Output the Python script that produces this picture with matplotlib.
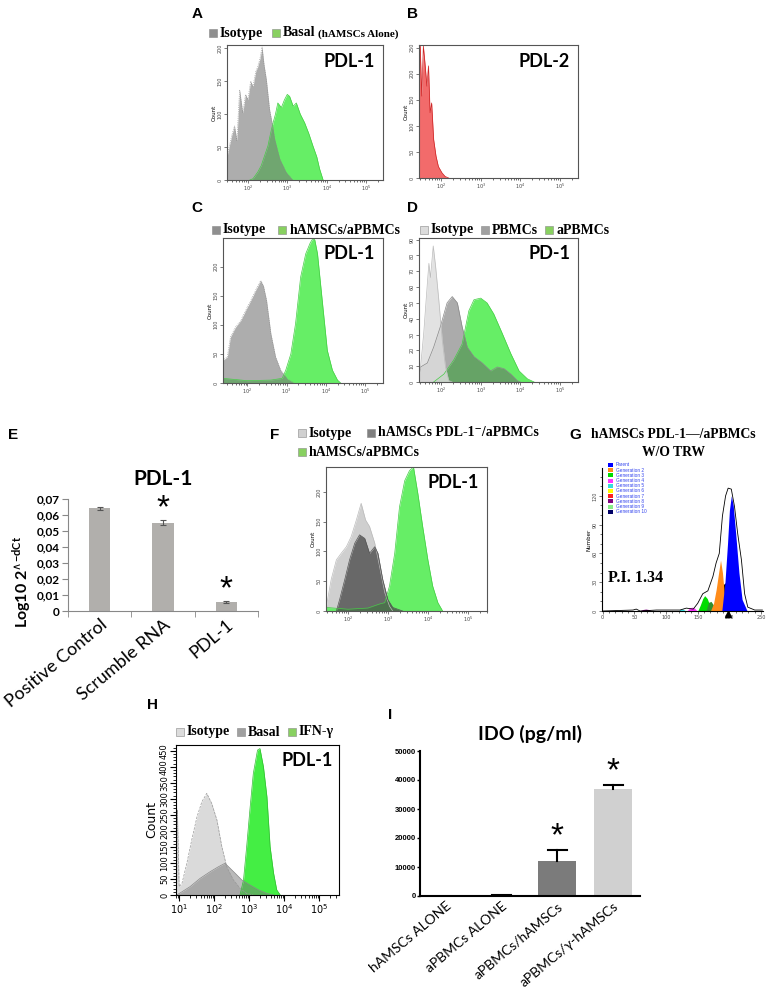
import numpy as np
import matplotlib
matplotlib.use('Agg')
import matplotlib.pyplot as plt
from matplotlib.patches import Rectangle

W, H = 767, 991

# ---------------- data (x in log10 decades, y = counts) ----------------
# A: PDL-1, isotype vs basal hAMSCs
a_iso_x = [1.47, 1.53, 1.60, 1.66, 1.72, 1.79, 1.87, 1.94, 2.0, 2.07, 2.13, 2.2, 2.25, 2.31, 2.36, 2.41, 2.47, 2.55, 2.62, 2.68, 2.81, 2.97, 3.14]
a_iso_y = [35, 52, 70, 82, 60, 137, 102, 130, 122, 150, 142, 165, 172, 185, 202, 175, 152, 107, 85, 62, 32, 12, 0]
a_bas_x = [2.05, 2.13, 2.25, 2.34, 2.43, 2.51, 2.58, 2.64, 2.70, 2.76, 2.85, 2.93, 3.0, 3.06, 3.15, 3.23, 3.33, 3.44, 3.55, 3.65, 3.75, 3.82, 3.91]
a_bas_y = [0, 2, 12, 22, 38, 52, 72, 87, 100, 117, 110, 122, 130, 127, 112, 117, 100, 87, 70, 52, 35, 17, 0]

# B: PDL-2
b_x = [1.44, 1.47, 1.51, 1.55, 1.59, 1.64, 1.68, 1.72, 1.76, 1.81, 1.87, 1.93, 2.02, 2.10, 2.19]
b_y = [255, 253, 157, 253, 221, 176, 215, 125, 144, 74, 42, 22, 10, 3, 0]

# C: PDL-1, isotype vs hAMSCs/aPBMCs
c_iso_x = [1.38, 1.49, 1.57, 1.70, 1.83, 1.96, 2.09, 2.21, 2.34, 2.41, 2.49, 2.60, 2.72, 2.85, 3.02, 3.19]
c_iso_y = [39, 45, 79, 96, 107, 125, 142, 159, 176, 167, 142, 85, 45, 22, 7, 0]
c_act_x = [1.38, 2.0, 2.6, 2.89, 2.98, 3.11, 3.23, 3.36, 3.49, 3.60, 3.67, 3.72, 3.79, 3.91, 4.04, 4.17, 4.30, 4.38]
c_act_y = [8, 4, 5, 8, 22, 50, 102, 182, 222, 240, 248, 246, 222, 142, 56, 22, 5, 0]

# D: PD-1
d_iso_x = [1.44, 1.48, 1.56, 1.65, 1.69, 1.73, 1.80, 1.86, 1.94, 2.03, 2.11, 2.19, 2.28]
d_iso_y = [5, 9.5, 31, 62, 75, 66, 86, 73, 52, 26, 9.5, 1, 0]
d_pbmc_x = [1.44, 1.48, 1.65, 1.81, 1.98, 2.15, 2.28, 2.41, 2.53, 2.66, 2.83, 3.04, 3.25, 3.42, 3.59, 3.76, 3.92, 4.0]
d_pbmc_y = [8, 9.5, 12, 22, 35, 50, 54, 50, 35, 22, 16, 12, 7, 9.5, 8.4, 5, 1, 0]
d_act_x = [1.81, 2.07, 2.32, 2.53, 2.70, 2.83, 3.0, 3.16, 3.33, 3.54, 3.76, 3.97, 4.18, 4.35]
d_act_y = [0, 5, 14, 24, 45, 52, 53, 50, 43, 31, 18, 7, 2, 0]

# E: qPCR PDL-1
e_labels = ['Positive Control', 'Scrumble RNA', 'PDL-1']
e_vals = [0.0642, 0.0553, 0.0055]
e_err = [0.0010, 0.0015, 0.0005]
e_star = [False, True, True]
e_yticks = [0, 0.01, 0.02, 0.03, 0.04, 0.05, 0.06, 0.07]
e_yticklabels = ['0', '0,01', '0,02', '0,03', '0,04', '0,05', '0,06', '0,07']

# F: PDL-1 silencing
f_iso_x = [1.46, 1.58, 1.71, 1.83, 1.96, 2.08, 2.21, 2.33, 2.44, 2.54, 2.67, 2.79, 2.92, 3.04, 3.12]
f_iso_y = [8, 53, 86, 97, 108, 125, 153, 181, 153, 142, 114, 75, 31, 8, 0]
f_neg_x = [1.71, 1.79, 1.92, 2.04, 2.17, 2.29, 2.42, 2.54, 2.67, 2.75, 2.87, 3.0, 3.12, 3.37]
f_neg_y = [0, 19, 53, 86, 114, 128, 122, 97, 108, 97, 53, 19, 6, 0]
f_act_x = [1.46, 2.0, 2.5, 2.8, 2.92, 3.04, 3.17, 3.29, 3.42, 3.54, 3.64, 3.75, 3.87, 4.0, 4.12, 4.25, 4.37]
f_act_y = [6, 3, 5, 12, 14, 42, 97, 175, 219, 236, 242, 197, 142, 86, 42, 14, 0]

# G: proliferation (channel, number)
g_tot_x = [0, 48, 53, 59, 85, 122, 132, 143, 150, 158, 166, 174, 179, 184, 189, 194, 198, 203, 208, 213, 219, 224, 229, 240, 252]
g_tot_y = [0, 1, 2, 0, 1, 1, 3, 2, 8, 18, 21, 36, 50, 60, 99, 120, 128, 127, 109, 81, 53, 18, 4, 1, 1]
g_parent_x = [188, 193, 197, 200, 203, 206, 210, 215, 220, 228]
g_parent_y = [0, 30, 70, 105, 120, 110, 80, 40, 12, 0]
g_black_x = [180, 186, 191, 195, 200, 205]
g_black_y = [0, 15, 28, 30, 15, 0]
g_gen2_x = [170, 175, 179, 183, 186, 189, 192, 196]
g_gen2_y = [0, 8, 22, 40, 53, 40, 18, 0]
g_gen3_x = [150, 154, 158, 161, 165, 169, 173]
g_gen3_y = [0, 6, 13, 16, 13, 6, 0]
g_gen9_x = [163, 167, 171, 176, 180]
g_gen9_y = [0, 9, 10, 5, 0]
g_gen4_x = [133, 137, 141, 145, 149]
g_gen4_y = [0, 3, 4, 3, 0]
g_gen5_x = [119, 123, 127, 131]
g_gen5_y = [0, 2, 2, 0]
g_gen8_x = [58, 63, 68, 73, 78]
g_gen8_y = [0, 1.5, 2, 1.5, 0]
g_leg_labels = ['Parent', 'Generation 2', 'Generation 3', 'Generation 4', 'Generation 5',
                'Generation 6', 'Generation 7', 'Generation 8', 'Generation 9', 'Generation 10']
g_leg_colors = ['#0000ff', '#ff8c1a', '#00dd00', '#ff33ff', '#33dddd',
                '#ffff00', '#ff2020', '#800080', '#88ee88', '#000066']

# H: PDL-1 with IFN-gamma
h_iso_x = [0.92, 0.94, 0.99, 1.07, 1.21, 1.35, 1.50, 1.64, 1.78, 1.92, 2.07, 2.21, 2.35, 2.54, 2.73, 2.92, 3.11]
h_iso_y = [0, 265, 26, 36, 99, 172, 244, 291, 317, 286, 234, 151, 88, 47, 21, 5, 0]
h_bas_x = [0.92, 1.07, 1.30, 1.59, 1.88, 2.11, 2.30, 2.45, 2.59, 2.78, 3.02, 3.26, 3.50, 3.69]
h_bas_y = [0, 10, 26, 52, 73, 88, 99, 83, 68, 47, 31, 16, 5, 0]
h_ifn_x = [2.73, 2.83, 2.92, 3.02, 3.11, 3.23, 3.30, 3.40, 3.50, 3.59, 3.69, 3.78, 3.88]
h_ifn_y = [0, 47, 151, 275, 379, 452, 457, 400, 306, 151, 68, 16, 0]

# I: IDO
i_labels = ['hAMSCs ALONE', 'aPBMCs ALONE', 'aPBMCs/hAMSCs', 'aPBMCs/\u03b3-hAMSCs']
i_vals = [0, 300, 12000, 37000]
i_err = [0, 100, 3800, 1400]
i_colors = ['#9a9a9a', '#9a9a9a', '#7b7b7b', '#d0d0d0']
i_star = [False, False, True, True]

# ---------------- helpers ----------------
SERIF = ['Liberation Serif', 'DejaVu Serif']
CAL = ['Lato', 'DejaVu Sans']
ARIAL = ['Liberation Sans', 'DejaVu Sans']
GREEN = '#66ee66'

fig = plt.figure(figsize=(W / 100, H / 100), dpi=100)
fig.patch.set_facecolor('white')
renderer = fig.canvas.get_renderer()


def box(l, t, r, b):
    return [l / W, 1 - b / H, (r - l) / W, (b - t) / H]


def fxy(x, y):
    return x / W, 1 - y / H


def label(x, y, s, fs=11):
    fig.text(*fxy(x, y), s, fontsize=fs, fontweight='bold', family=ARIAL, ha='center', va='center')


def legend_row(x, y, items, fs=10, gap=9):
    for lab, col in items:
        fig.patches.append(Rectangle(fxy(x, y + 4), 8 / W, 8 / H, transform=fig.transFigure,
                                     facecolor=col, edgecolor='#888888', lw=0.4))
        t = fig.text(*fxy(x + 11, y), lab, fontsize=fs, fontweight='bold', family=SERIF, va='center')
        x = x + 11 + t.get_window_extent(renderer).width + gap
    return x


def flow_axes(rect, xlim, ylim, yticks, fs=3.5):
    ax = fig.add_axes(rect)
    ax.set_xlim(*xlim)
    ax.set_ylim(*ylim)
    dec = [d for d in range(1, 6) if xlim[0] <= d <= xlim[1]]
    ax.set_xticks(dec)
    ax.set_xticklabels(['$10^{%d}$' % d for d in dec], fontsize=fs)
    minor = [d + np.log10(k) for d in range(0, 6) for k in range(2, 10)
             if xlim[0] < d + np.log10(k) < xlim[1]]
    ax.set_xticks(minor, minor=True)
    ax.set_yticks(yticks)
    ax.set_yticklabels([str(v) for v in yticks], fontsize=fs, rotation=90, va='center')
    ax.set_ylabel('Count', fontsize=fs + 0.5, labelpad=1)
    ax.tick_params(direction='out', length=2, width=0.5, pad=1, colors='#444444')
    ax.tick_params(which='minor', length=1.2, width=0.4)
    for s in ax.spines.values():
        s.set_linewidth(0.8)
        s.set_color('#555555')
    return ax


def hist(ax, xs, ys, color, alpha=1.0, edge=None, ls='-'):
    ax.fill_between(xs, ys, color=color, alpha=alpha, lw=0)
    if edge:
        ax.plot(xs, ys, color=edge, lw=0.5, ls=ls)


def tag(ax, x, y, s, fs=13):
    ax.text(x, y, s, transform=ax.transAxes, fontsize=fs, fontweight='bold', family=CAL, ha='right', va='top')


# ---------------- A ----------------
label(197, 14, 'A')
x_end = legend_row(209, 33, [('Isotype', '#8f8f8f'), ('Basal', '#88d060')])
fig.text(*fxy(x_end - 7, 34), '(hAMSCs Alone)', fontsize=8, fontweight='bold', family=SERIF, va='center')
axA = flow_axes(box(227, 45, 383, 180), (1.47, 5.43), (0, 205), [0, 50, 100, 150, 200])
hist(axA, a_bas_x, a_bas_y, GREEN, edge='#44cc44')
hist(axA, a_iso_x, a_iso_y, '#777777', alpha=0.6, edge='#888888', ls=':')
tag(axA, 0.95, 0.94, 'PDL-1')

# ---------------- B ----------------
label(413, 14, 'B')
axB = flow_axes(box(419, 45, 578, 178), (1.44, 5.46), (0, 255), [0, 50, 100, 150, 200, 250])
hist(axB, b_x, b_y, '#f26b6b', edge='#cc2222')
tag(axB, 0.95, 0.94, 'PDL-2')

# ---------------- C ----------------
label(197, 208, 'C')
legend_row(212, 230, [('Isotype', '#8f8f8f'), ('hAMSCs/aPBMCs', '#88d060')], gap=12)
axC = flow_axes(box(223, 238, 383, 383), (1.38, 5.46), (0, 249), [0, 50, 100, 150, 200])
hist(axC, c_act_x, c_act_y, GREEN, edge='#44cc44')
hist(axC, c_iso_x, c_iso_y, '#777777', alpha=0.6, edge='#888888', ls=':')
tag(axC, 0.95, 0.95, 'PDL-1')

# ---------------- D ----------------
label(413, 208, 'D')
legend_row(420, 230, [('Isotype', '#dcdcdc'), ('PBMCs', '#a0a0a0'), ('aPBMCs', '#88d060')], gap=7)
axD = flow_axes(box(419, 238, 578, 382), (1.44, 5.46), (0, 91), list(range(0, 91, 10)))
hist(axD, d_act_x, d_act_y, GREEN, edge='#44cc44')
hist(axD, d_pbmc_x, d_pbmc_y, '#666666', alpha=0.55, edge='#888888')
hist(axD, d_iso_x, d_iso_y, '#dddddd', alpha=0.85, edge='#bbbbbb')
tag(axD, 0.95, 0.95, 'PD-1')

# ---------------- E ----------------
label(13, 435, 'E')
axE = fig.add_axes(box(68, 499, 258, 611))
xe = np.arange(len(e_vals))
axE.bar(xe, e_vals, width=0.34, color='#b1afac', yerr=e_err, capsize=2.5,
        error_kw=dict(ecolor='#555555', elinewidth=0.8, capthick=0.8))
for xi, v, er, st in zip(xe, e_vals, e_err, e_star):
    if st:
        axE.text(xi, v + er + 0.007, '*', fontsize=24, ha='center', va='center', family=ARIAL)
axE.set_xlim(-0.5, 2.5)
axE.set_ylim(0, 0.07)
axE.set_yticks(e_yticks)
axE.set_yticklabels(e_yticklabels, fontsize=8.5, fontweight='bold', family=CAL)
axE.set_xticks(xe)
axE.set_xticklabels(e_labels, rotation=40, ha='right', rotation_mode='anchor', fontsize=13, family=CAL)
axE.set_xticks([-0.5, 0.5, 1.5, 2.5], minor=True)
axE.tick_params(axis='x', which='major', length=0, pad=4)
axE.tick_params(axis='x', which='minor', length=4, direction='out', color='#888888')
axE.tick_params(axis='y', length=4, direction='out', color='#888888', pad=2)
axE.spines[['top', 'right']].set_visible(False)
axE.spines[['left', 'bottom']].set_color('#888888')
axE.set_ylabel('Log10 2$^{\\wedge\\mathregular{-dCt}}$', fontsize=11.5, fontweight='bold', family=CAL)
axE.yaxis.set_label_coords(-0.18, 0.26)
axE.set_title('PDL-1', fontsize=15, fontweight='bold', family=CAL, pad=10)

# ---------------- F ----------------
label(275, 435, 'F')
legend_row(298, 433, [('Isotype', '#d0d0d0'), ('hAMSCs PDL-1\u207b/aPBMCs', '#808080')], fs=10, gap=15)
legend_row(298, 452, [('hAMSCs/aPBMCs', '#88d060')], fs=10)
axF = flow_axes(box(326, 467, 487, 611), (1.45, 5.48), (0, 242), [0, 50, 100, 150, 200])
hist(axF, f_iso_x, f_iso_y, '#cfcfcf', edge='#bbbbbb')
hist(axF, f_act_x, f_act_y, GREEN, edge='#44cc44')
hist(axF, f_neg_x, f_neg_y, '#464646', alpha=0.75, edge='#555555')
tag(axF, 0.95, 0.95, 'PDL-1')

# ---------------- G ----------------
label(575, 435, 'G')
fig.text(*fxy(673, 435), 'hAMSCs PDL-1\u2014/aPBMCs', fontsize=9.8, fontweight='bold', family=SERIF,
         ha='center', va='center')
fig.text(*fxy(674, 452), 'W/O TRW', fontsize=9.8, fontweight='bold', family=SERIF, ha='center', va='center')
axG = fig.add_axes(box(602, 468, 763, 611))
axG.fill_between(g_gen8_x, g_gen8_y, color='#800080', lw=0)
axG.fill_between(g_gen5_x, g_gen5_y, color='#33dddd', lw=0)
axG.fill_between(g_gen4_x, g_gen4_y, color='#ff33ff', lw=0)
axG.fill_between(g_gen3_x, g_gen3_y, color='#00dd00', lw=0)
axG.fill_between(g_gen9_x, g_gen9_y, color='#2f8f2f', lw=0)
axG.fill_between(g_black_x, g_black_y, color='black', lw=0)
axG.fill_between(g_gen2_x, g_gen2_y, color='#ff8c1a', lw=0)
axG.fill_between(g_parent_x, g_parent_y, color='#0000ff', lw=0)
axG.plot(g_tot_x, g_tot_y, color='black', lw=0.6)
axG.plot([198], [-3], marker='^', color='black', ms=4, clip_on=False)
axG.set_xlim(-1, 253)
axG.set_ylim(0, 149)
axG.set_xticks(range(0, 251, 50))
axG.set_xticks(range(0, 251, 10), minor=True)
axG.set_yticks([0, 30, 60, 90, 120])
axG.set_yticks(range(0, 150, 10), minor=True)
axG.tick_params(labelsize=3.5, length=2, width=0.5, pad=1, colors='#444444')
axG.tick_params(which='minor', length=1.2, width=0.4)
plt.setp(axG.get_yticklabels(), rotation=90, va='center')
axG.set_ylabel('Number', fontsize=4, labelpad=1)
axG.spines[['top', 'right']].set_visible(False)
for i, (lab, col) in enumerate(zip(g_leg_labels, g_leg_colors)):
    yy = 465 + i * 5.2
    fig.patches.append(Rectangle(fxy(608, yy + 2), 5 / W, 4 / H, transform=fig.transFigure,
                                 facecolor=col, lw=0))
    fig.text(*fxy(616, yy), lab, fontsize=3.4, color='#3344ee', va='center', family=ARIAL)
axG.text(0.04, 0.23, 'P.I. 1.34', transform=axG.transAxes, fontsize=11.5, fontweight='bold',
         family=SERIF, va='center')

# ---------------- H ----------------
label(153, 705, 'H')
legend_row(176, 732, [('Isotype', '#dcdcdc'), ('Basal', '#a0a0a0'), ('IFN-\u03b3', '#88d060')], gap=7)
axH = fig.add_axes(box(176, 745, 339, 895))
hist(axH, h_iso_x, h_iso_y, '#dadada', edge='#999999', ls='--')
hist(axH, h_ifn_x, h_ifn_y, '#44ee44', edge='#33bb33')
hist(axH, h_bas_x, h_bas_y, '#777777', alpha=0.5, edge='#888888')
axH.set_xlim(0.9, 5.56)
axH.set_ylim(0, 468)
axH.set_xticks([1, 2, 3, 4, 5])
axH.set_xticklabels(['$10^{%d}$' % d for d in range(1, 6)], fontsize=7)
axH.set_xticks([d + np.log10(k) for d in range(0, 6) for k in range(2, 10)
                if 0.9 < d + np.log10(k) < 5.56], minor=True)
axH.set_yticks(range(0, 451, 50))
axH.set_yticks(range(0, 461, 10), minor=True)
axH.set_yticklabels([str(v) for v in range(0, 451, 50)], fontsize=6, rotation=90, va='center')
axH.tick_params(direction='out', length=4, width=0.8, pad=1)
axH.tick_params(which='minor', length=2.5, width=0.6)
axH.set_ylabel('Count', fontsize=9, labelpad=1)
for s in axH.spines.values():
    s.set_linewidth(0.8)
tag(axH, 0.96, 0.95, 'PDL-1')

# ---------------- I ----------------
fig.text(*fxy(390, 715), 'I', fontsize=11, fontweight='bold', family=ARIAL, ha='center', va='center')
axI = fig.add_axes(box(420, 751, 640, 896))
xi_ = np.arange(len(i_vals))
axI.bar(xi_, i_vals, width=0.68, color=i_colors)
for x, v, er, st in zip(xi_, i_vals, i_err, i_star):
    if er > 0:
        axI.plot([x, x], [v, v + er], color='black', lw=1.5)
        axI.plot([x - 0.17, x + 0.17], [v + er, v + er], color='black', lw=1.5)
    if st:
        axI.text(x, v + er + 4500, '*', fontsize=24, ha='center', va='center', family=ARIAL)
axI.set_xlim(-0.46, 3.48)
axI.set_ylim(0, 50000)
axI.set_yticks(range(0, 50001, 10000))
axI.set_yticklabels([str(v) for v in range(0, 50001, 10000)], fontsize=5.5, fontweight='bold', family=ARIAL)
axI.set_xticks(xi_)
axI.set_xticklabels(i_labels, rotation=40, ha='right', rotation_mode='anchor', fontsize=10, family=CAL)
axI.tick_params(axis='y', length=2, width=1, pad=1)
axI.tick_params(axis='x', length=0, pad=3)
axI.spines[['top', 'right']].set_visible(False)
axI.spines[['left', 'bottom']].set_linewidth(1.5)
axI.set_title('IDO (pg/ml)', fontsize=14, fontweight='bold', family=CAL, pad=8)

fig.savefig('out.png', dpi=100)
